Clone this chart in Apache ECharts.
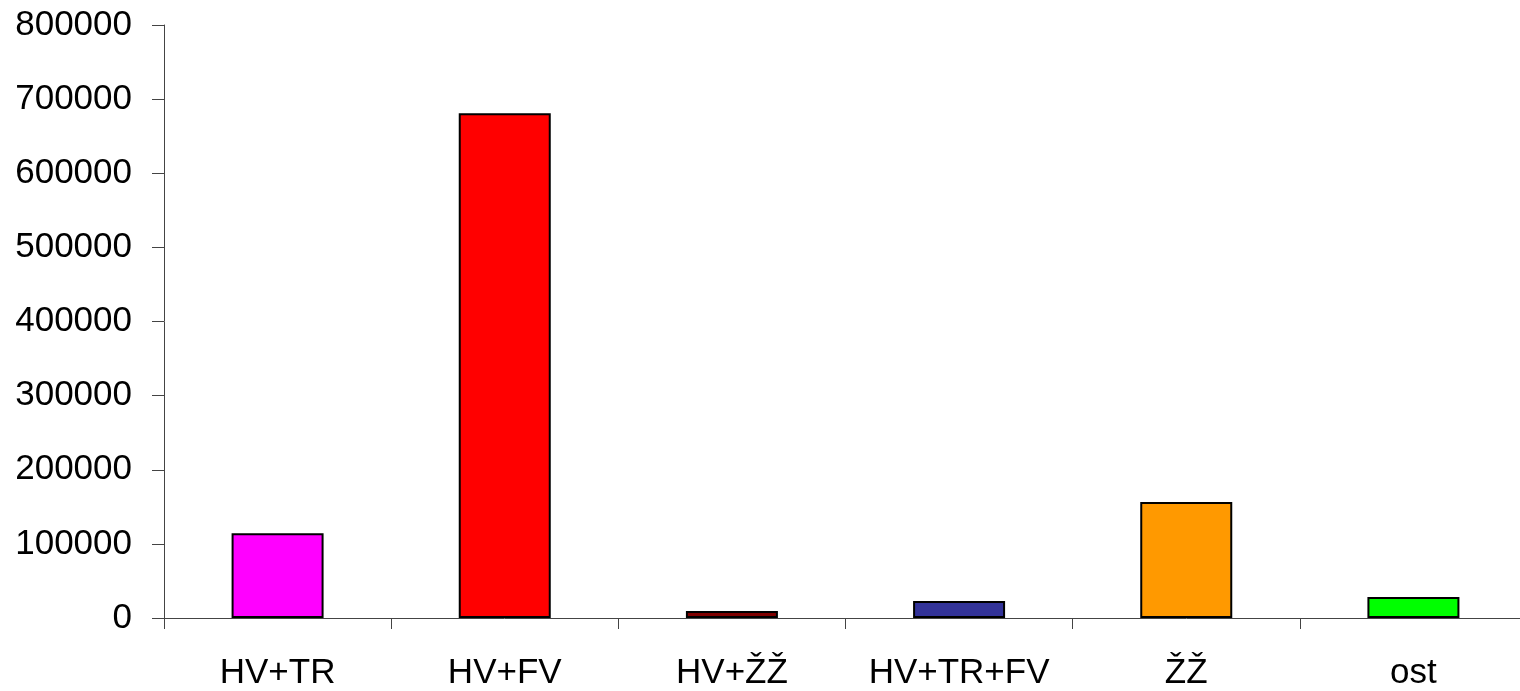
<!DOCTYPE html>
<html>
<head>
<meta charset="utf-8">
<script src="https://cdn.jsdelivr.net/npm/echarts@6/dist/echarts.min.js"></script>
<style>
  html, body { margin: 0; padding: 0; background: #fff; overflow: hidden; }
  #chart { width: 1527px; height: 691px; }
</style>
</head>
<body>
<div id="chart"></div>
<script>
const categories = ['HV+TR', 'HV+FV', 'HV+ŽŽ', 'HV+TR+FV', 'ŽŽ', 'ost']
const values = [114500, 681000, 9500, 22900, 156600, 28300]
const barColors = ['#FF00FF', '#FF0000', '#800000', '#333399', '#FF9900', '#00FF00']

// 图表比窗口略宽，最后一个分类刻度落在画面外
const myChart = echarts.init(document.getElementById('chart'))
myChart.setOption({
  animation: false,
  grid: {
    left: 164,
    right: 0,
    top: 25,
    bottom: 72
  },
  xAxis: {
    type: 'category',
    data: categories,
    axisLine: { lineStyle: { color: '#444', width: 1 } },
    axisTick: { show: true, length: 11, interval: 0, lineStyle: { color: '#444' } },
    axisLabel: {
      color: '#000',
      fontFamily: 'Liberation Sans, Arial, sans-serif',
      fontSize: 35,
      margin: 38,
      interval: 0
    }
  },
  yAxis: {
    type: 'value',
    min: 0,
    max: 800000,
    interval: 100000,
    splitLine: { show: false },
    axisLine: { show: true, lineStyle: { color: '#444', width: 1 } },
    axisTick: { show: true, length: 12, lineStyle: { color: '#444' } },
    axisLabel: {
      color: '#000',
      fontFamily: 'Liberation Sans, Arial, sans-serif',
      fontSize: 35,
      margin: 32,
      padding: [4, 0, 0, 0],
      formatter: (v) => String(v)
    }
  },
  series: [
    {
      type: 'bar',
      barWidth: '40.5%',
      data: values.map((v, i) => ({
        value: v,
        itemStyle: { color: barColors[i] }
      })),
      itemStyle: { borderColor: '#000', borderWidth: 2 }
    }
  ]
})
window.addEventListener('resize', () => {
  myChart.resize()
})
</script>
</body>
</html>
